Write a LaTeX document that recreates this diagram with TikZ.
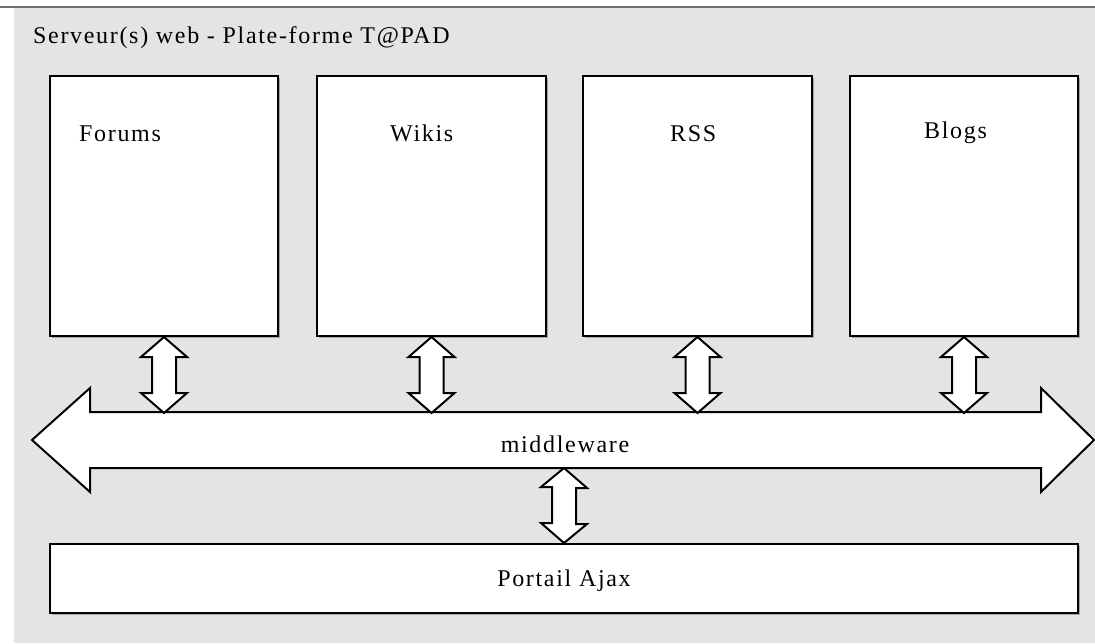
\documentclass[tikz,border=0pt]{standalone}
\usepackage{fontspec}
\setmainfont[LetterSpace=7]{Liberation Serif}
\usetikzlibrary{calc,shadows}
\definecolor{bggray}{HTML}{E4E4E4}
\definecolor{linegray}{HTML}{707070}
\begin{document}
\begin{tikzpicture}[x=1pt,y=-1pt,
  font=\fontsize{24}{29}\selectfont,
  box/.style={draw=black,line width=2pt,fill=white,inner sep=0pt,
    drop shadow={shadow xshift=1.5pt,shadow yshift=-1.5pt,fill=gray!70,opacity=1}},
  blockarrow/.style={draw=black,line width=2pt,fill=white,line join=miter},
  lbl/.style={inner sep=0pt,anchor=base},
  boxlbl/.style={inner sep=0pt,anchor=base west}
]
\useasboundingbox (0,0) rectangle (1095,643);
\fill[bggray] (14,7) rectangle (1095,643);
\draw[linegray,line width=1.2pt] (0,7) -- (1095,7);
\node[inner sep=0pt,anchor=base west] (title) at (33,43) {Serveur(s) web - Plate-forme T@PAD};
% service boxes
\node[box,minimum width=228pt,minimum height=260pt] (forums) at (164,206) {};
\node[box,minimum width=229pt,minimum height=260pt] (wikis) at (431.5,206) {};
\node[box,minimum width=229pt,minimum height=260pt] (rss) at (697.5,206) {};
\node[box,minimum width=228pt,minimum height=260pt] (blogs) at (964,206) {};
\node[boxlbl] (tforums) at ($(forums.north west)+(30,66)$) {Forums};
\node[boxlbl] (twikis) at ($(wikis.north west)+(74,66)$) {Wikis};
\node[boxlbl] (trss) at ($(rss.north west)+(88,66)$) {RSS};
\node[boxlbl] (tblogs) at ($(blogs.north west)+(75,63)$) {Blogs};
% portal box
\node[box,minimum width=1028pt,minimum height=69pt] (portal) at (564,578.5) {};
\node[lbl] (tportal) at ($(portal.center)+(0,8)$) {Portail Ajax};
% middleware arrow
\coordinate (mwl) at (32,440);
\coordinate (mwr) at (1094,440);
\draw[blockarrow] (mwl) -- ++(58,-52) -- ++(0,24) -- ($(mwr)+(-53,-28)$) -- ++(0,-24) -- (mwr)
  -- ++(-53,52) -- ++(0,-24) -- ($(mwl)+(58,28)$) -- ++(0,24) -- cycle;
\node[lbl] (middleware) at (565,452) {middleware};
% vertical double arrows
\foreach \a in {forums,wikis,rss,blogs}{
  \coordinate (top) at (\a.south);
  \draw[blockarrow] (top) -- ++(23,20) -- ++(-11,0) -- ++(0,36) -- ++(11,0) -- ++(-23,20)
    -- ++(-23,-20) -- ++(11,0) -- ++(0,-36) -- ++(-11,0) -- cycle;
}
\coordinate (mtop) at (portal.north |- 0,468);
\draw[blockarrow] (mtop) -- ++(23,20) -- ++(-11,0) -- ++(0,36) -- ++(11,0) -- (portal.north)
  -- ++(-23,-20) -- ++(11,0) -- ++(0,-36) -- ++(-11,0) -- cycle;
\end{tikzpicture}
\end{document}
